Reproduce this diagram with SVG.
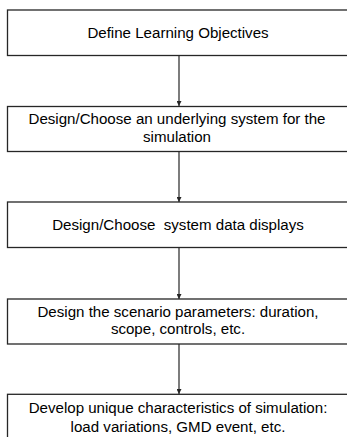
<svg xmlns="http://www.w3.org/2000/svg" width="347" height="437" viewBox="0 0 347 437">
<style>
.box{fill:#ffffff;stroke:#262626;stroke-width:1.3}
.t{font-family:"Liberation Sans",Arial,sans-serif;font-size:15.1px;fill:#000;text-anchor:middle}
.c{stroke:#262626;stroke-width:1.2;fill:none}
</style>
<defs>
<marker id="ah" viewBox="0 0 6 6" refX="6" refY="3" markerWidth="5" markerHeight="5" markerUnits="userSpaceOnUse" orient="auto">
<path d="M0,0 L6,3 L0,6 Z" fill="#262626"/>
</marker>
</defs>
<rect width="347" height="437" fill="#ffffff"/>
<g id="connectors">
<line class="c" x1="179" y1="55.5" x2="179" y2="106" marker-end="url(#ah)"/>
<line class="c" x1="179" y1="152" x2="179" y2="202" marker-end="url(#ah)"/>
<line class="c" x1="179" y1="247.5" x2="179" y2="299" marker-end="url(#ah)"/>
<line class="c" x1="179" y1="344" x2="179" y2="394" marker-end="url(#ah)"/>
</g>
<g id="node1">
<rect class="box" x="7.5" y="10" width="345" height="45.5"/>
<text class="t" x="178" y="37.7">Define Learning Objectives</text>
</g>
<g id="node2">
<rect class="box" x="7.5" y="106.5" width="345" height="45"/>
<text class="t" x="177" y="124">Design/Choose an underlying system for the</text>
<text class="t" x="177" y="142.3">simulation</text>
</g>
<g id="node3">
<rect class="box" x="7.5" y="202" width="345" height="45.5"/>
<text class="t" x="178" y="230" xml:space="preserve">Design/Choose  system data displays</text>
</g>
<g id="node4">
<rect class="box" x="7.5" y="299" width="345" height="45"/>
<text class="t" x="178" y="316.7">Design the scenario parameters: duration,</text>
<text class="t" x="178" y="334.3">scope, controls, etc.</text>
</g>
<g id="node5">
<rect class="box" x="7.5" y="394.3" width="345" height="50"/>
<text class="t" x="178" y="413.3">Develop unique characteristics of simulation:</text>
<text class="t" x="178" y="431.7">load variations, GMD event, etc.</text>
</g>
</svg>
